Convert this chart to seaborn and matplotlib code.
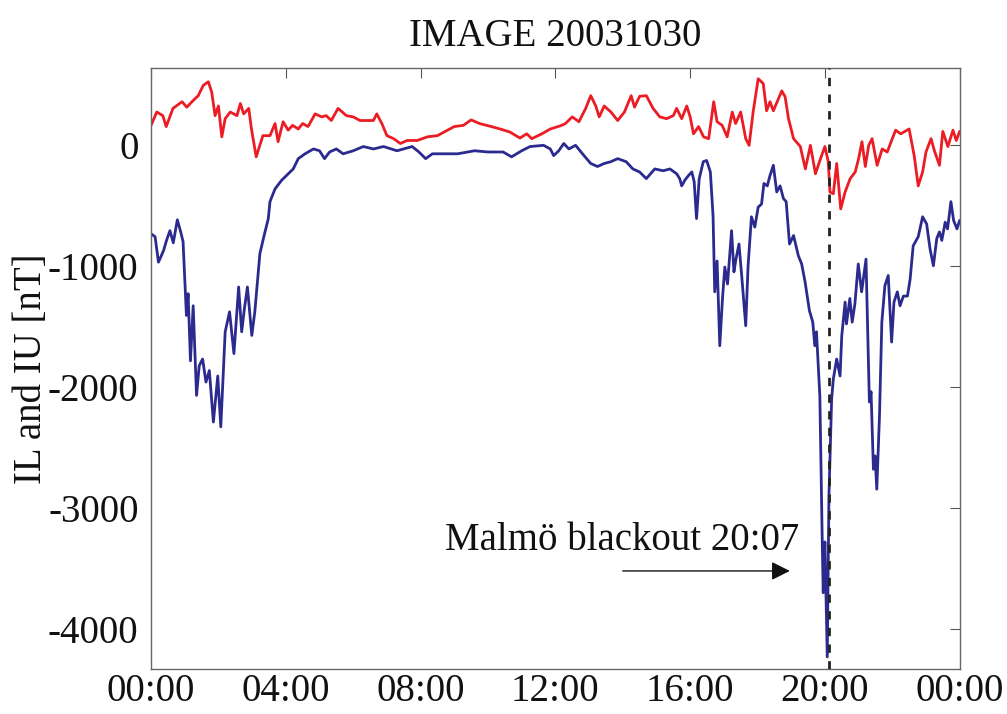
import numpy as np
import pandas as pd
import matplotlib
matplotlib.use("Agg")
import matplotlib.pyplot as plt
import seaborn as sns

# ---- data (hours since 00:00 UT, nT) ----
iu_hours = [0.0, 0.17, 0.35, 0.45, 0.65, 0.92, 1.06, 1.25, 1.4, 1.55, 1.7, 1.8, 1.9, 2.0, 2.1, 2.2,
            2.35, 2.55, 2.65, 2.75, 2.9, 2.98, 3.12, 3.23, 3.32, 3.53, 3.68, 3.77, 3.92, 4.07, 4.2,
            4.37, 4.5, 4.66, 4.87, 5.06, 5.2, 5.35, 5.55, 5.8, 6.0, 6.2, 6.4, 6.6, 6.7, 6.85, 7.0,
            7.2, 7.4, 7.6, 7.9, 8.2, 8.5, 8.7, 9.0, 9.27, 9.5, 9.75, 10.1, 10.36, 10.65, 10.95,
            11.15, 11.3, 11.6, 11.85, 12.14, 12.3, 12.5, 12.7, 12.9, 13.05, 13.2, 13.3, 13.45,
            13.65, 13.85, 14.05, 14.25, 14.35, 14.5, 14.7, 14.9, 15.1, 15.3, 15.5, 15.6, 15.75,
            15.9, 16.0, 16.1, 16.25, 16.4, 16.55, 16.7, 16.8, 16.95, 17.1, 17.25, 17.35, 17.5,
            17.65, 17.75, 17.87, 18.02, 18.17, 18.27, 18.37, 18.47, 18.62, 18.72, 18.82, 18.92,
            19.07, 19.27, 19.42, 19.57, 19.72, 19.87, 20.0, 20.1, 20.15, 20.25, 20.35, 20.47,
            20.6, 20.75, 20.9, 21.0, 21.1, 21.2, 21.3, 21.4, 21.55, 21.7, 21.85, 22.0, 22.1,
            22.25, 22.5, 22.65, 22.77, 22.9, 23.0, 23.15, 23.25, 23.4, 23.5, 23.65, 23.8, 23.9, 24.0]
iu_values = [160, 270, 240, 150, 300, 355, 310, 365, 405, 490, 520, 435, 240, 320, 65, 215,
             270, 240, 340, 255, 300, 130, -100, -5, 75, 75, 175, 25, 190, 120, 160,
             130, 175, 150, 255, 230, 240, 200, 300, 240, 230, 200, 200, 200, 255, 175, 75,
             50, 10, 35, 35, 65, 75, 105, 150, 160, 205, 175, 150, 130, 105, 55,
             90, 50, 90, 130, 155, 175, 230, 190, 300, 405, 320, 230, 320,
             270, 200, 270, 405, 310, 400, 405, 300, 230, 215, 240, 300, 215,
             320, 230, 90, 150, 65, 50, 355, 190, 160, 65, 270, 175, 270,
             50, -5, 270, 545, 505, 280, 355, 280, 380, 445, 395, 215,
             50, -15, -200, -5, -240, -115, -15, -140, -390, -405, -155, -530,
             -390, -280, -225, -115, 25, -180, -5, 50, -170, -35, -60, 50, 120,
             90, 130, -90, -340, -225, -60, 50, -50, -170, 110, -15, 120, 35, 110]

il_hours = [0.0, 0.12, 0.22, 0.37, 0.46, 0.56, 0.66, 0.78, 0.88, 0.95, 1.05, 1.1, 1.17, 1.25,
            1.35, 1.43, 1.53, 1.63, 1.73, 1.85, 1.98, 2.07, 2.2, 2.33, 2.46, 2.6, 2.69, 2.77,
            2.86, 2.99, 3.08, 3.23, 3.33, 3.48, 3.53, 3.68, 3.87, 4.07, 4.22, 4.37, 4.57, 4.82,
            5.0, 5.15, 5.3, 5.5, 5.7, 6.0, 6.3, 6.6, 6.9, 7.3, 7.75, 7.95, 8.15, 8.35, 8.7, 9.1,
            9.6, 10.0, 10.45, 10.7, 11.0, 11.25, 11.65, 11.85, 11.95, 12.1, 12.25, 12.4, 12.6,
            12.85, 13.05, 13.25, 13.45, 13.65, 13.85, 14.1, 14.3, 14.5, 14.7, 14.95, 15.2, 15.4,
            15.6, 15.69, 15.75, 15.85, 15.95, 16.05, 16.12, 16.19, 16.27, 16.39, 16.49, 16.6,
            16.68, 16.73, 16.8, 16.88, 16.96, 17.03, 17.11, 17.23, 17.3, 17.36, 17.45, 17.53,
            17.65, 17.72, 17.82, 17.92, 18.02, 18.12, 18.19, 18.29, 18.37, 18.47, 18.57, 18.67,
            18.77, 18.85, 18.95, 19.07, 19.21, 19.31, 19.41, 19.54, 19.64, 19.7, 19.75, 19.85,
            19.92, 19.95, 20.0, 20.07, 20.12, 20.2, 20.25, 20.35, 20.45, 20.5, 20.6, 20.64,
            20.74, 20.81, 20.89, 20.99, 21.09, 21.22, 21.32, 21.37, 21.44, 21.49, 21.54, 21.62,
            21.69, 21.78, 21.88, 21.98, 22.05, 22.15, 22.23, 22.33, 22.45, 22.53, 22.62, 22.77,
            22.9, 23.02, 23.12, 23.22, 23.32, 23.4, 23.47, 23.57, 23.64, 23.74, 23.82, 23.92, 24.0]
il_values = [-735, -760, -970, -875, -790, -710, -810, -620, -720, -800, -1410, -1230, -1785, -1330,
             -2070, -1825, -1770, -1960, -1865, -2290, -1910, -2330, -1545, -1380, -1725, -1175, -1545, -1355,
             -1175, -1575, -1380, -900, -780, -610, -470, -365, -295, -240, -200, -115, -75, -35,
             -50, -115, -60, -35, -75, -50, -15, -35, -15, -50, -15, -60, -115, -75, -75, -75,
             -50, -60, -60, -100, -50, -15, -5, -35, -90, -50, 10, -35, -5,
             -90, -155, -180, -155, -140, -115, -140, -200, -225, -280, -200, -215, -200,
             -240, -280, -340, -290, -255, -225, -305, -610, -280, -140, -130, -225,
             -585, -1215, -960, -1660, -1270, -1010, -1150, -710, -1050, -945, -820, -1080,
             -1495, -1000, -595, -680, -515, -490, -320, -340, -255, -170, -390, -340,
             -445, -470, -820, -750, -915, -985, -1130, -1370, -1465, -1660, -1545, -2075,
             -3255, -3700, -3280, -4230, -2900, -2100, -1935, -1770, -1910, -1580, -1300, -1480,
             -1270, -1465, -1315, -985, -1215, -945, -2125, -2040, -2680, -2570, -2845, -2240,
             -1465, -1165, -1080, -1630, -1300, -1215, -1330, -1250, -1250, -1110, -835, -760,
             -595, -655, -860, -1000, -775, -720, -790, -640, -695, -470, -625, -695, -625]

tick_hours = [0, 4, 8, 12, 16, 20, 24]
tick_labels = ["00:00", "04:00", "08:00", "12:00", "16:00", "20:00", "00:00"]
y_ticks = [0, -1000, -2000, -3000, -4000]
blackout_hour = 20 + 7 / 60
title_text = "IMAGE 20031030"
ylabel_text = "IL and IU [nT]"
note_text = "Malmö blackout 20:07"

# ---- plotting ----
sns.set_theme(style="white")
plt.rcParams["font.family"] = ["Liberation Serif", "DejaVu Serif"]

fig = plt.figure(figsize=(10.07, 7.14), dpi=100)
ax = fig.add_axes([0.150, 0.063, 0.803, 0.842])

iu = pd.DataFrame({"hour": iu_hours, "value": iu_values})
il = pd.DataFrame({"hour": il_hours, "value": il_values})
sns.lineplot(data=iu, x="hour", y="value", color="#ec1c24", linewidth=2.0,
             estimator=None, sort=False, ax=ax)
sns.lineplot(data=il, x="hour", y="value", color="#2b2a8e", linewidth=2.0,
             estimator=None, sort=False, ax=ax)

ax.axvline(blackout_hour, color="#222222", linestyle=(0, (3, 3)), linewidth=2.0, zorder=5)

ax.annotate("", xy=(18.96, -3520), xytext=(14.0, -3520),
            arrowprops=dict(arrowstyle="-|>", color="#111111", lw=1.0,
                            mutation_scale=28, shrinkA=0, shrinkB=0))
ax.text(8.72, -3348, note_text, fontsize=28, color="#111111", ha="left", va="baseline")

ax.set_xlim(0, 24)
ax.set_ylim(-4330, 635)
ax.set_xticks(tick_hours)
ax.set_xticklabels(tick_labels)
ax.set_yticks(y_ticks)
ax.set_yticklabels([str(v) for v in y_ticks])
ax.tick_params(direction="in", length=7, width=0.8, color="#555555",
               top=True, right=True, labelsize=28, labelcolor="#111111")
ax.tick_params(axis="x", pad=3)
ax.tick_params(axis="y", pad=9)
ax.set_xlabel("")
ax.set_ylabel(ylabel_text, fontsize=28, color="#111111")
ax.yaxis.set_label_coords(-0.125, 0.5)
ax.set_title(title_text, fontsize=28, color="#111111", pad=16)
for s in ax.spines.values():
    s.set_color("#666666")
    s.set_linewidth(1.0)

fig.savefig("out.png", dpi=100, facecolor="white")
